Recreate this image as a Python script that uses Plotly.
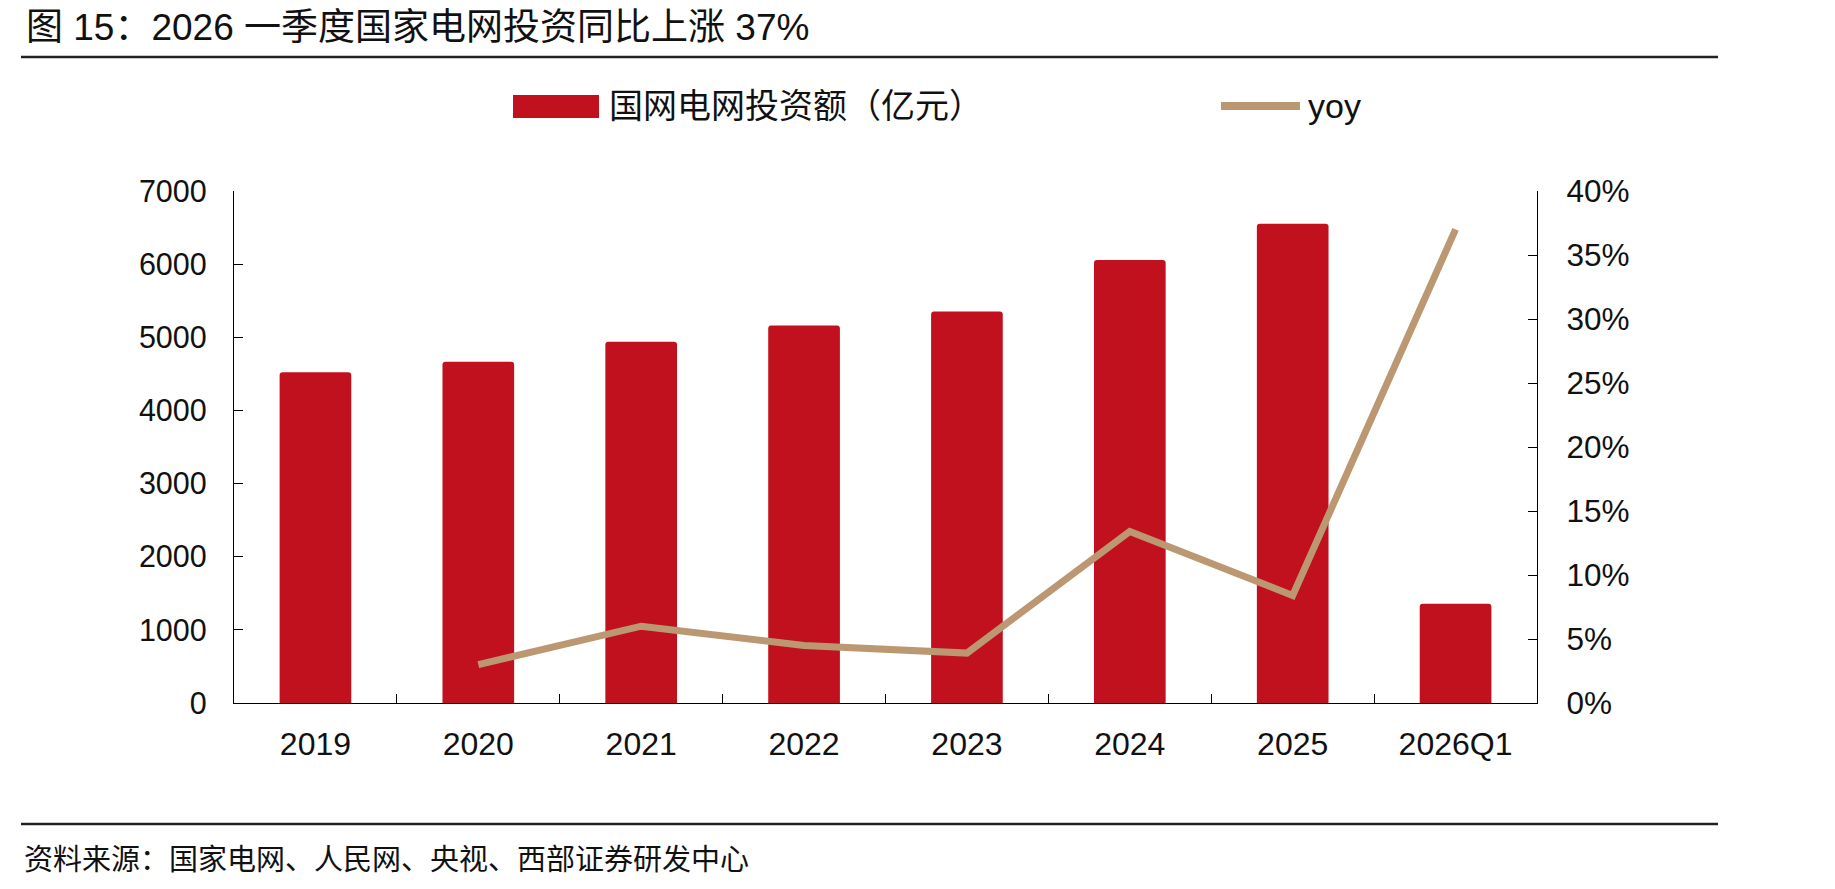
import plotly.graph_objects as go

categories = ["2019", "2020", "2021", "2022", "2023", "2024", "2025", "2026Q1"]
invest = [4523, 4667, 4938, 5162, 5354, 6057, 6553, 1358]
yoy = [None, 3.0, 6.0, 4.5, 3.9, 13.4, 8.4, 37.0]
left_ticks = [0, 1000, 2000, 3000, 4000, 5000, 6000, 7000]
right_ticks = [0, 5, 10, 15, 20, 25, 30, 35, 40]
right_labels = [f"{v}%" for v in right_ticks]

title_text = "图 15：2026 一季度国家电网投资同比上涨 37%"
source_text = "资料来源：国家电网、人民网、央视、西部证券研发中心"
bar_name = "国网电网投资额（亿元）"
line_name = "yoy"

W, H = 1835, 889
L, R, T, B = 234, 1537, 191, 703
RED = "#C1101E"
TAN = "#BB9872"
FONT = "Liberation Sans, Arial, Noto Sans CJK SC"


def px(x):
    return (x - L) / (R - L)


def py(y):
    return (B - y) / (B - T)


fig = go.Figure()
fig.add_trace(go.Bar(x=categories, y=invest, name=bar_name, marker=dict(color=RED, cornerradius=3, line=dict(width=0)),
                     width=0.44, showlegend=False))
fig.add_trace(go.Scatter(x=categories, y=yoy, name=line_name, yaxis="y2", mode="lines",
                         line=dict(color=TAN, width=7), showlegend=False))

shapes = [
    dict(type="line", xref="paper", yref="paper", x0=px(21), x1=px(1718), y0=py(57), y1=py(57),
         line=dict(color="#222", width=2.5)),
    dict(type="line", xref="paper", yref="paper", x0=px(21), x1=px(1718), y0=py(824), y1=py(824),
         line=dict(color="#222", width=2.5)),
    dict(type="rect", xref="paper", yref="paper", x0=px(513), x1=px(599), y0=py(118), y1=py(95),
         fillcolor=RED, line=dict(width=0)),
    dict(type="line", xref="paper", yref="paper", x0=px(1221), x1=px(1300), y0=py(106), y1=py(106),
         line=dict(color=TAN, width=8)),
]

annotations = [
    dict(text=title_text, xref="paper", yref="paper", x=px(24), y=py(27), xanchor="left", yanchor="middle",
         showarrow=False, font=dict(family=FONT, size=37, color="#111")),
    dict(text=source_text, xref="paper", yref="paper", x=px(22), y=py(860), xanchor="left", yanchor="middle",
         showarrow=False, font=dict(family=FONT, size=29, color="#111")),
    dict(text=bar_name, xref="paper", yref="paper", x=px(607), y=py(106), xanchor="left", yanchor="middle",
         showarrow=False, font=dict(family=FONT, size=34, color="#111")),
    dict(text=line_name, xref="paper", yref="paper", x=px(1306), y=py(106), xanchor="left", yanchor="middle",
         showarrow=False, font=dict(family=FONT, size=34, color="#111")),
]

fig.update_layout(
    width=W, height=H,
    margin=dict(l=L, r=W - R, t=T, b=H - B, pad=0),
    paper_bgcolor="white", plot_bgcolor="white",
    font=dict(family=FONT, size=30, color="#111"),
    bargap=0.56,
    shapes=shapes, annotations=annotations,
    xaxis=dict(type="category", showline=True, linecolor="black", linewidth=1.3, ticks="inside",
               tickson="boundaries", ticklen=9, tickcolor="black", showgrid=False,
               ticklabelstandoff=12, tickfont=dict(size=32)),
    yaxis=dict(range=[0, 7000], tickvals=left_ticks, showline=True, linecolor="black", linewidth=1.3,
               ticks="inside", ticklen=9, tickcolor="black", showgrid=False, zeroline=False,
               ticklabelstandoff=20, tickfont=dict(size=30.5)),
    yaxis2=dict(range=[0, 40], tickvals=right_ticks, ticktext=right_labels, overlaying="y", side="right",
                showline=True, linecolor="black", linewidth=1.3, ticks="inside", ticklen=9,
                tickcolor="black", showgrid=False, zeroline=False, ticklabelstandoff=22,
                tickfont=dict(size=31.5)),
)

fig.write_html("out.html")
